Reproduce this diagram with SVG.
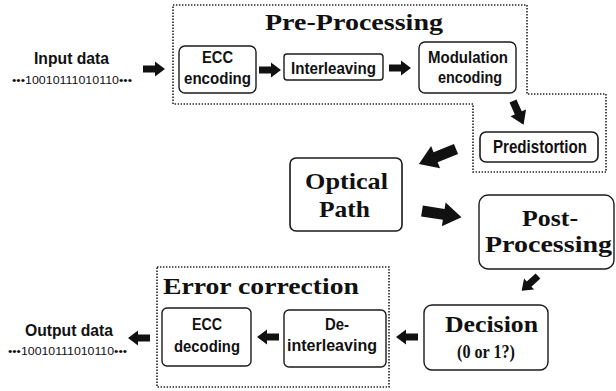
<svg xmlns="http://www.w3.org/2000/svg" xmlns:xlink="http://www.w3.org/1999/xlink" width="616" height="391" viewBox="0 0 616 391">
  <style>
    .box { fill: #fff; stroke: #1a1a1a; stroke-width: 1.4; }
    .frame { fill: none; stroke: #222; stroke-width: 1.6; stroke-dasharray: 1.4 1.6; }
    .sans { font-family: "Liberation Sans", Arial, sans-serif; font-weight: bold; fill: #111; }
    .serif { font-family: "Liberation Serif", "Times New Roman", serif; font-weight: bold; fill: #111; }
    .bits { font-family: "Liberation Sans", Arial, sans-serif; fill: #111; }
    .arrow { fill: #111; }
  </style>
  <defs>
    <!-- block arrows pointing along +x, tip at the given length -->
    <path id="arrS" d="M0,-3.5 H12 V-7.5 L22,0 L12,7.5 V3.5 H0 Z"/>
    <path id="arrM" d="M0,-3.8 H13 V-8.5 L26,0 L13,8.5 V3.8 H0 Z"/>
    <path id="arrL" d="M0,-5.5 H22 V-12 L40,0 L22,12 V5.5 H0 Z"/>
  </defs>

  <!-- dotted group outlines -->
  <path id="pre-processing-frame" class="frame" d="M173,5 H527 V94 H606 V172 H473 V104 H173 Z"/>
  <rect id="error-correction-frame" class="frame" x="157" y="267" width="232" height="120"/>

  <text class="serif" x="354" y="30" font-size="23" text-anchor="middle" textLength="178" lengthAdjust="spacingAndGlyphs">Pre-Processing</text>
  <text class="serif" x="261" y="294" font-size="23" text-anchor="middle" textLength="196" lengthAdjust="spacingAndGlyphs">Error correction</text>

  <g id="input">
    <text class="sans" x="71.5" y="64" font-size="17" text-anchor="middle" textLength="75" lengthAdjust="spacingAndGlyphs">Input data</text>
    <text class="bits" x="72" y="84" font-size="10" text-anchor="middle" textLength="120" lengthAdjust="spacingAndGlyphs">•••10010111010110•••</text>
  </g>

  <g id="ecc-encoding">
    <rect class="box" x="179" y="46" width="77" height="47" rx="6"/>
    <text class="sans" x="217.5" y="63" font-size="16" text-anchor="middle" textLength="31" lengthAdjust="spacingAndGlyphs">ECC</text>
    <text class="sans" x="217.5" y="84" font-size="16" text-anchor="middle" textLength="67" lengthAdjust="spacingAndGlyphs">encoding</text>
  </g>

  <g id="interleaving">
    <rect class="box" x="284" y="54" width="99" height="26" rx="3"/>
    <text class="sans" x="333.5" y="74" font-size="17" text-anchor="middle" textLength="85" lengthAdjust="spacingAndGlyphs">Interleaving</text>
  </g>

  <g id="modulation-encoding">
    <rect class="box" x="419" y="42" width="97" height="51" rx="6"/>
    <text class="sans" x="468" y="63" font-size="16" text-anchor="middle" textLength="80" lengthAdjust="spacingAndGlyphs">Modulation</text>
    <text class="sans" x="470" y="83" font-size="16" text-anchor="middle" textLength="64" lengthAdjust="spacingAndGlyphs">encoding</text>
  </g>

  <g id="predistortion">
    <rect class="box" x="480" y="132" width="118" height="30" rx="6" style="stroke-width:1.6"/>
    <text class="sans" x="540" y="153" font-size="19" text-anchor="middle" textLength="94" lengthAdjust="spacingAndGlyphs">Predistortion</text>
  </g>

  <g id="optical-path">
    <rect class="box" x="290" y="158" width="112" height="73" rx="6" style="stroke-width:1.6"/>
    <text class="serif" x="346.5" y="189" font-size="23" text-anchor="middle" textLength="83" lengthAdjust="spacingAndGlyphs">Optical</text>
    <text class="serif" x="344.5" y="217" font-size="23" text-anchor="middle" textLength="51" lengthAdjust="spacingAndGlyphs">Path</text>
  </g>

  <g id="post-processing">
    <rect class="box" x="479" y="195" width="135" height="74" rx="9"/>
    <text class="serif" x="550" y="226" font-size="23" text-anchor="middle" textLength="56" lengthAdjust="spacingAndGlyphs">Post-</text>
    <text class="serif" x="548.5" y="252" font-size="23" text-anchor="middle" textLength="127" lengthAdjust="spacingAndGlyphs">Processing</text>
  </g>

  <g id="decision">
    <rect class="box" x="424" y="305" width="124" height="65" rx="8"/>
    <text class="serif" x="491.5" y="332" font-size="24" text-anchor="middle" textLength="93" lengthAdjust="spacingAndGlyphs">Decision</text>
    <text class="serif" x="486" y="358" font-size="18" text-anchor="middle" textLength="58" lengthAdjust="spacingAndGlyphs">(0 or 1?)</text>
  </g>

  <g id="de-interleaving">
    <rect class="box" x="284" y="310" width="102" height="57" rx="5"/>
    <text class="sans" x="337" y="330" font-size="17" text-anchor="middle" textLength="24" lengthAdjust="spacingAndGlyphs">De-</text>
    <text class="sans" x="332" y="351" font-size="17" text-anchor="middle" textLength="90" lengthAdjust="spacingAndGlyphs">interleaving</text>
  </g>

  <g id="ecc-decoding">
    <rect class="box" x="162" y="308" width="89" height="58" rx="5"/>
    <text class="sans" x="207" y="330" font-size="17" text-anchor="middle" textLength="30" lengthAdjust="spacingAndGlyphs">ECC</text>
    <text class="sans" x="207" y="352" font-size="17" text-anchor="middle" textLength="66" lengthAdjust="spacingAndGlyphs">decoding</text>
  </g>

  <g id="output">
    <text class="sans" x="69" y="336" font-size="17" text-anchor="middle" textLength="88" lengthAdjust="spacingAndGlyphs">Output data</text>
    <text class="bits" x="67.5" y="355" font-size="10" text-anchor="middle" textLength="119" lengthAdjust="spacingAndGlyphs">•••10010111010110•••</text>
  </g>

  <g id="connectors" class="arrow">
    <use xlink:href="#arrS" transform="translate(143,69)"/>
    <use xlink:href="#arrS" transform="translate(259,70)"/>
    <use xlink:href="#arrS" transform="translate(389,68)"/>
    <use xlink:href="#arrM" transform="translate(513,101) rotate(66)"/>
    <use xlink:href="#arrL" transform="translate(456,149) rotate(158)" style="transform-box:view-box"/>
    <use xlink:href="#arrL" transform="translate(422,211) rotate(9)"/>
    <use xlink:href="#arrS" transform="translate(538,276) rotate(138)"/>
    <use xlink:href="#arrS" transform="translate(418,337) rotate(180)"/>
    <use xlink:href="#arrS" transform="translate(279,337) rotate(180)"/>
    <use xlink:href="#arrS" transform="translate(150,338) rotate(180)"/>
  </g>
</svg>
